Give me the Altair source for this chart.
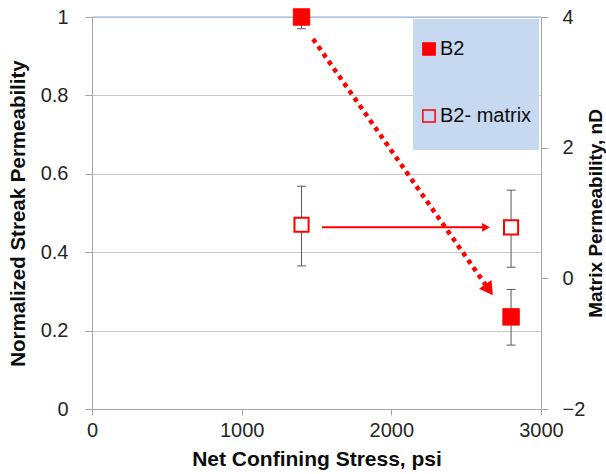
import altair as alt
import pandas as pd

# ---- data ----
stress = [1400, 2800]
series_b2 = ["B2", "B2"]
b2_perm = [1.0, 0.235]
b2_lo = [0.97, 0.163]
b2_hi = [1.03, 0.305]

series_m = ["B2- matrix", "B2- matrix"]
matrix_perm = [0.82, 0.78]
matrix_lo = [0.19, 0.17]
matrix_hi = [1.41, 1.35]

# trend arrows (data coordinates)
dotted_x = [1477, 2653]
dotted_y = [0.944, 0.304]
horiz_x = [1537, 2633]
horiz_y = [0.78, 0.78]

series_names = ["B2", "B2- matrix"]
RED = "#ff0000"
GRID = "#c8c8c8"
AXIS = "#a6a6a6"
ERR = "#595959"

b2 = pd.DataFrame({"x": stress, "y": b2_perm, "lo": b2_lo, "hi": b2_hi, "series": series_b2})
mx = pd.DataFrame({"x": stress, "y": matrix_perm, "lo": matrix_lo, "hi": matrix_hi, "series": series_m})
dotted = pd.DataFrame({"x": [dotted_x[0]], "x2": [dotted_x[1]], "y": [dotted_y[0]], "y2": [dotted_y[1]]})
dotted_head = pd.DataFrame({"x": [dotted_x[1]], "y": [dotted_y[1]]})
horiz = pd.DataFrame({"x": [horiz_x[0]], "x2": [horiz_x[1]], "y": [horiz_y[0]]})
horiz_head = pd.DataFrame({"x": [horiz_x[1]], "y": [horiz_y[1]]})

xscale = alt.Scale(domain=[0, 3000], nice=False, zero=False)
xaxis = alt.Axis(title="Net Confining Stress, psi", values=[0, 1000, 2000, 3000], format="d",
                 grid=False, tickSize=6, labelPadding=5, titlePadding=8, titleFontSize=21,
                 labelFlush=False)
yl_scale = alt.Scale(domain=[0, 1], nice=False, zero=False)
yl_axis = alt.Axis(title="Normalized Streak Permeability", values=[0, 0.2, 0.4, 0.6, 0.8, 1],
                   labelExpr="datum.value == 0 ? '0' : datum.value == 1 ? '1' : format(datum.value, '.1f')",
                   grid=True, gridColor=GRID, tickSize=7, labelPadding=17, titlePadding=12,
                   titleFontSize=20.5, labelFlush=False)
yr_scale = alt.Scale(domain=[-2, 4], nice=False, zero=False)
yr_axis = alt.Axis(title="Matrix Permeability, nD", orient="right", values=[-2, 0, 2, 4], format="d",
                   grid=False, tickSize=7, labelPadding=14, titlePadding=21, titleAngle=270,
                   titleFontSize=19, labelFlush=False)

fill_enc = alt.Fill("series:N", scale=alt.Scale(domain=series_names, range=[RED, "transparent"]), title=None)
stroke_enc = alt.Stroke("series:N", scale=alt.Scale(domain=series_names, range=[RED, RED]), title=None)

# legend background box
legend_box = alt.Chart(pd.DataFrame({"a": [0]})).mark_rect(color="#c6d9f0").encode(
    x=alt.value(321), x2=alt.value(447), y=alt.value(2), y2=alt.value(133))

top_line = alt.Chart(pd.DataFrame({"y": [1]})).mark_rule(color="#8db3e2", strokeWidth=1.2).encode(
    y=alt.Y("y:Q", scale=yl_scale, axis=yl_axis))

dline = alt.Chart(dotted).mark_rule(color=RED, strokeWidth=4.5, strokeDash=[4.5, 4.5]).encode(
    x=alt.X("x:Q", scale=xscale, axis=xaxis), x2="x2:Q", y=alt.Y("y:Q", scale=yl_scale), y2="y2:Q")
dhead = alt.Chart(dotted_head).mark_point(shape="triangle-up", filled=True, color=RED, opacity=1,
                                           size=230, angle=145).encode(
    x=alt.X("x:Q", scale=xscale), y=alt.Y("y:Q", scale=yl_scale))

b2_err = alt.Chart(b2).mark_rule(color=ERR, strokeWidth=1, clip=True).encode(
    x=alt.X("x:Q", scale=xscale), y=alt.Y("lo:Q", scale=yl_scale), y2="hi:Q")
b2_caps_lo = alt.Chart(b2).mark_tick(color=ERR, thickness=1, size=9, orient="horizontal", clip=True, opacity=1).encode(
    x=alt.X("x:Q", scale=xscale), y=alt.Y("lo:Q", scale=yl_scale))
b2_caps_hi = alt.Chart(b2).mark_tick(color=ERR, thickness=1, size=9, orient="horizontal", clip=True, opacity=1).encode(
    x=alt.X("x:Q", scale=xscale), y=alt.Y("hi:Q", scale=yl_scale))
b2_pts = alt.Chart(b2).mark_point(shape="square", size=270, strokeWidth=1, opacity=1).encode(
    x=alt.X("x:Q", scale=xscale), y=alt.Y("y:Q", scale=yl_scale), fill=fill_enc, stroke=stroke_enc)

left = alt.layer(legend_box, top_line, dline, dhead, b2_err, b2_caps_lo, b2_caps_hi, b2_pts)

m_err = alt.Chart(mx).mark_rule(color=ERR, strokeWidth=1).encode(
    x=alt.X("x:Q", scale=xscale), y=alt.Y("lo:Q", scale=yr_scale, axis=yr_axis), y2="hi:Q")
m_caps_lo = alt.Chart(mx).mark_tick(color=ERR, thickness=1, size=9, orient="horizontal", opacity=1).encode(
    x=alt.X("x:Q", scale=xscale), y=alt.Y("lo:Q", scale=yr_scale))
m_caps_hi = alt.Chart(mx).mark_tick(color=ERR, thickness=1, size=9, orient="horizontal", opacity=1).encode(
    x=alt.X("x:Q", scale=xscale), y=alt.Y("hi:Q", scale=yr_scale))
m_white = alt.Chart(mx).mark_point(shape="square", size=200, filled=True, color="white", opacity=1).encode(
    x=alt.X("x:Q", scale=xscale), y=alt.Y("y:Q", scale=yr_scale))
m_pts = alt.Chart(mx).mark_point(shape="square", size=200, strokeWidth=2, opacity=1).encode(
    x=alt.X("x:Q", scale=xscale), y=alt.Y("y:Q", scale=yr_scale), fill=fill_enc, stroke=stroke_enc)
hline = alt.Chart(horiz).mark_rule(color=RED, strokeWidth=2).encode(
    x=alt.X("x:Q", scale=xscale), x2="x2:Q", y=alt.Y("y:Q", scale=yr_scale))
hhead = alt.Chart(horiz_head).mark_point(shape="triangle-right", filled=True, color=RED, opacity=1,
                                         size=80).encode(
    x=alt.X("x:Q", scale=xscale), y=alt.Y("y:Q", scale=yr_scale))

right = alt.layer(m_err, m_caps_lo, m_caps_hi, m_white, hline, hhead, m_pts)

chart = alt.layer(left, right).resolve_scale(y="independent").properties(
    width=449, height=392,
    autosize=alt.AutoSizeParams(type="none"),
    padding={"left": 92, "top": 17, "right": 65, "bottom": 65},
    background="white",
).configure_view(stroke=None).configure_axis(
    labelFont="Liberation Sans", titleFont="Liberation Sans",
    labelFontSize=20, labelColor="#262626", titleColor="#0d0d0d",
    titleFontWeight="bold", domainColor=AXIS, tickColor=AXIS,
).configure_legend(
    orient="none", legendX=327, legendY=22, padding=0, rowPadding=47,
    labelFont="Liberation Sans", labelFontSize=20, labelColor="#0d0d0d", labelOffset=1,
    symbolSize=150, symbolStrokeWidth=1.5, symbolType="square", labelLimit=200,
)

chart.save("out.html", embed_options={"renderer": "svg", "actions": False})
